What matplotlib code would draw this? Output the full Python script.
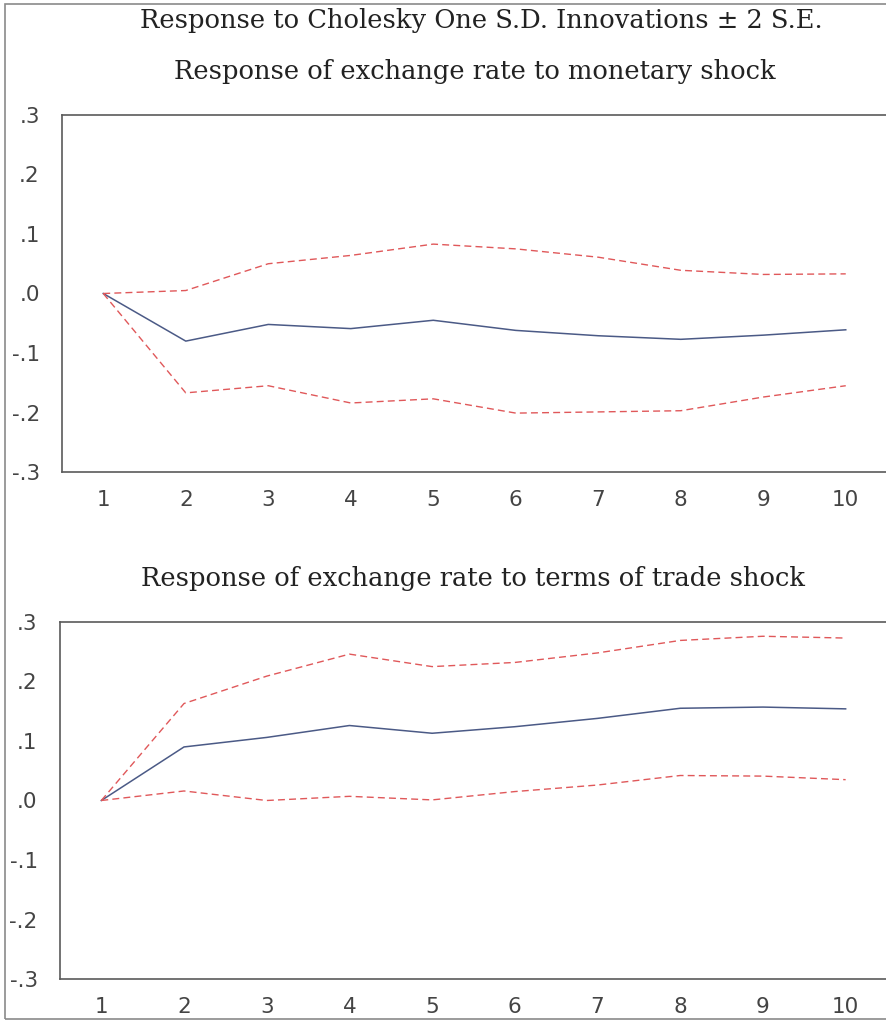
import matplotlib
matplotlib.use("Agg")
import matplotlib.pyplot as plt
from matplotlib.patches import Rectangle

# impulse responses
periods = [1, 2, 3, 4, 5, 6, 7, 8, 9, 10]

mon_resp = [0.0, -0.080, -0.052, -0.059, -0.045, -0.062, -0.071, -0.077, -0.070, -0.061]
mon_upper = [0.0, 0.005, 0.050, 0.064, 0.083, 0.075, 0.061, 0.039, 0.032, 0.033]
mon_lower = [0.0, -0.167, -0.155, -0.184, -0.177, -0.201, -0.199, -0.197, -0.174, -0.155]

tot_resp = [0.0, 0.090, 0.106, 0.126, 0.113, 0.124, 0.138, 0.155, 0.157, 0.154]
tot_upper = [0.0, 0.163, 0.209, 0.246, 0.225, 0.232, 0.248, 0.269, 0.276, 0.273]
tot_lower = [0.0, 0.016, 0.000, 0.007, 0.001, 0.015, 0.026, 0.042, 0.041, 0.035]

y_ticks = [0.3, 0.2, 0.1, 0.0, -0.1, -0.2, -0.3]
y_labels = [".3", ".2", ".1", ".0", "-.1", "-.2", "-.3"]

main_title = "Response to Cholesky One S.D. Innovations \u00b1 2 S.E."
sub_titles = ["Response of exchange rate to monetary shock",
              "Response of exchange rate to terms of trade shock"]

# the scan stretches the text sideways, so use the wider DejaVu faces
serif = "DejaVu Serif"
sans = "DejaVu Sans"
frame_col = "#5a5a5a"
blue = "#4b5a86"
red = "#e0585a"


def panel(ax, resp, upper, lower, title):
    ax.plot(periods, resp, color=blue, lw=1.1)
    ax.plot(periods, upper, color=red, lw=1.0, ls=(0, (5, 3)))
    ax.plot(periods, lower, color=red, lw=1.0, ls=(0, (5, 3)))
    ax.set_xlim(0.5, 10.5)
    ax.set_ylim(-0.3, 0.3)
    ax.set_xticks(periods)
    ax.set_xticklabels([str(p) for p in periods], fontfamily=sans,
                       fontsize=15.5, color="#444444")
    ax.set_yticks(y_ticks)
    ax.set_yticklabels(y_labels, fontfamily=sans, fontsize=15.5, color="#444444")
    ax.tick_params(axis="y", length=0, pad=16)
    ax.tick_params(axis="x", length=0, pad=13)
    ax.spines["right"].set_visible(False)
    for s in ["left", "top", "bottom"]:
        ax.spines[s].set_color(frame_col)
        ax.spines[s].set_linewidth(1.2)
    ax.set_title(title, fontfamily=serif, fontsize=18.5, color="#222222", pad=26)


fig = plt.figure(figsize=(8.87, 10.23), dpi=100)
fig.patch.set_facecolor("white")

ax1 = fig.add_axes([0.0699, 0.5386, 0.9301, 0.349])
ax2 = fig.add_axes([0.0676, 0.043, 0.9324, 0.349])

panel(ax1, mon_resp, mon_upper, mon_lower, sub_titles[0])
panel(ax2, tot_resp, tot_upper, tot_lower, sub_titles[1])

fig.text(0.543, 0.980, main_title, ha="center", va="center",
         fontfamily=serif, fontsize=18.5, color="#222222")

# outer frame of the scanned figure
fig.patches.append(Rectangle((0.006, 0.004), 1.1, 0.992, transform=fig.transFigure,
                             fill=False, edgecolor="#8a8a8a", lw=1.2))

fig.savefig("out.png", dpi=100, facecolor="white")
